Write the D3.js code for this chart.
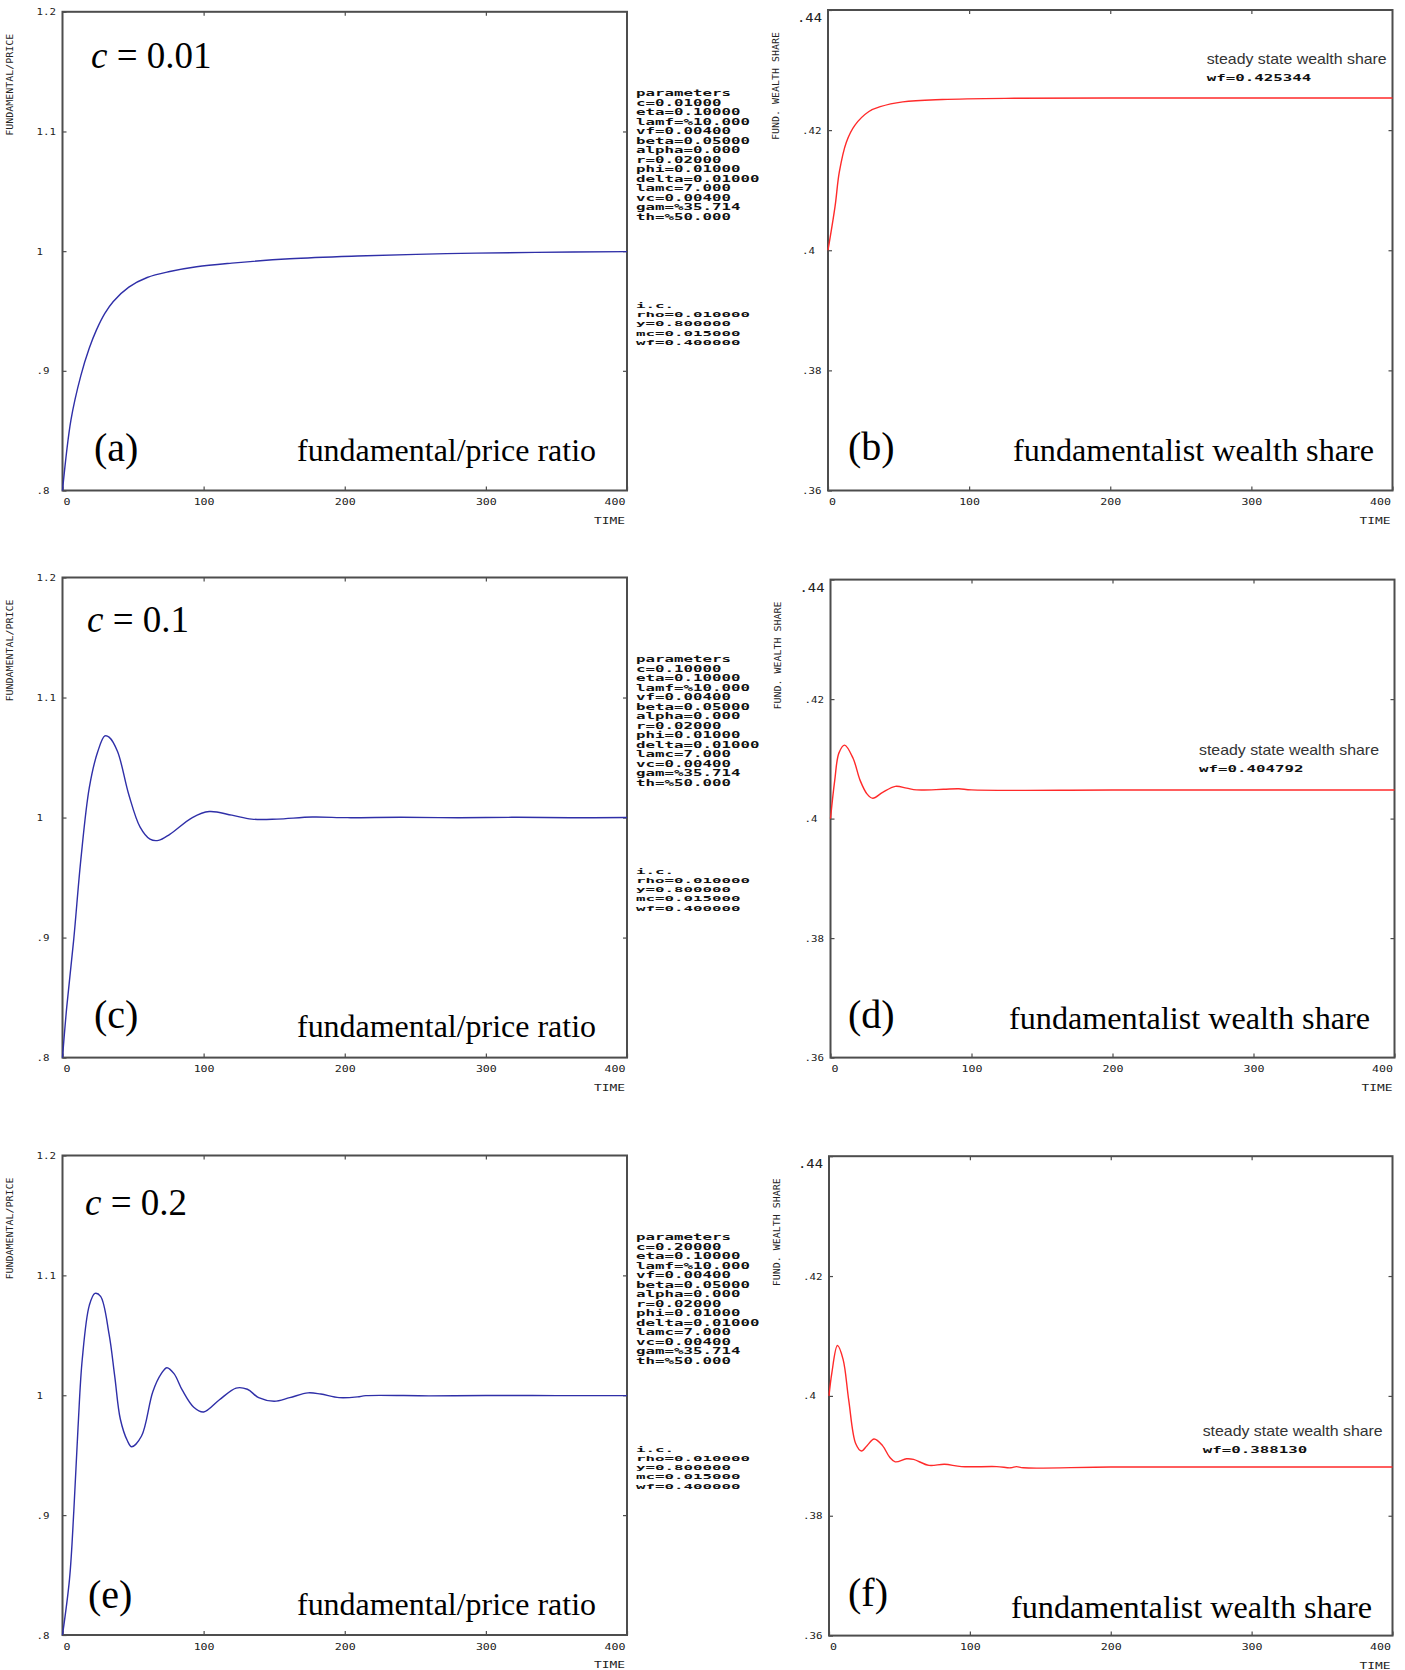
<!DOCTYPE html>
<html>
<head>
<meta charset="utf-8">
<script src="https://cdn.jsdelivr.net/npm/d3@7"></script>
<style>
  html, body { margin: 0; padding: 0; background: #fff; }
  svg { display: block; }
</style>
</head>
<body>
<div id="chart"></div>
<script>
// ---- data ----
const timeTicks = [0, 100, 200, 300, 400];
const ratioTicks = [0.8, 0.9, 1.0, 1.1, 1.2];
const ratioTickLabels = ['.8', '.9', '1', '1.1', '1.2'];
const shareTicks = [0.36, 0.38, 0.40, 0.42, 0.44];
const shareTickLabels = ['.36', '.38', '.4', '.42', '.44'];

const cValues = ['0.01', '0.1', '0.2'];
const cParams = ['0.01000', '0.10000', '0.20000'];
const steadyShares = ['0.425344', '0.404792', '0.388130'];
const panelLetters = [['(a)', '(b)'], ['(c)', '(d)'], ['(e)', '(f)']];

const otherParams = ['eta=0.10000', 'lamf=%10.000', 'vf=0.00400', 'beta=0.05000',
  'alpha=0.000', 'r=0.02000', 'phi=0.01000', 'delta=0.01000', 'lamc=7.000',
  'vc=0.00400', 'gam=%35.714', 'th=%50.000'];
const initialConds = ['rho=0.010000', 'y=0.800000', 'mc=0.015000', 'wf=0.400000'];

// c = 0.01
const timeA = [0, 6, 13, 19, 24, 30, 36, 47, 60, 76, 95, 120, 161, 209, 272, 335, 400];
const ratioA = [0.800, 0.859, 0.896, 0.919, 0.934, 0.948, 0.958, 0.970, 0.978, 0.983,
  0.987, 0.990, 0.9936, 0.9959, 0.9979, 0.9990, 0.9996];
const timeB = [0, 5, 8, 13, 19, 29, 37, 53, 81, 132, 200, 300, 400];
const shareB = [0.400, 0.4073, 0.4130, 0.4180, 0.4208, 0.4231, 0.4239, 0.4247, 0.4251,
  0.4253, 0.42534, 0.42534, 0.42534];

// c = 0.1
const timeC = [0, 3, 8, 13, 19, 25, 30, 33, 39, 47, 55, 62, 68, 76, 92, 104, 120, 134,
  152, 177, 202, 240, 280, 320, 360, 400];
const ratioC = [0.800, 0.842, 0.899, 0.965, 1.025, 1.055, 1.068, 1.067, 1.055, 1.019,
  0.992, 0.982, 0.981, 0.986, 1.000, 1.005, 1.002, 0.9987, 0.9987, 1.0004, 0.9999,
  1.0002, 0.9998, 1.0002, 0.9998, 1.0000];
const timeD = [0, 3, 6, 10, 16, 21, 26, 30, 37, 46, 54, 61, 80, 91, 100, 200, 300, 400];
const shareD = [0.400, 0.4064, 0.4110, 0.4123, 0.4101, 0.4064, 0.4041, 0.4034, 0.4044,
  0.4054, 0.4051, 0.4048, 0.4049, 0.4050, 0.4048, 0.40479, 0.40479, 0.40479];

// c = 0.2
const timeE = [0, 5, 8, 11, 14, 19, 23, 27, 33, 37, 41, 46, 49, 56, 64, 70, 74, 79, 85,
  93, 100, 111, 123, 131, 139, 150, 161, 174, 183, 196, 209, 215, 260, 300, 350, 400];
const ratioE = [0.800, 0.847, 0.903, 0.973, 1.030, 1.075, 1.085, 1.0825, 1.051, 1.016,
  0.980, 0.962, 0.957, 0.966, 1.003, 1.018, 1.023, 1.018, 1.004, 0.990, 0.986, 0.996,
  1.006, 1.005, 0.998, 0.995, 0.998, 1.002, 1.001, 0.998, 0.9986, 0.9997, 0.9995,
  0.9998, 0.9997, 0.9997];
const timeF = [0, 2, 6, 10, 14, 19, 23, 27, 32, 38, 43, 47, 55, 60, 71, 82, 94, 119,
  129, 133, 138, 200, 300, 400];
const shareF = [0.400, 0.4038, 0.4084, 0.4061, 0.3993, 0.3920, 0.3908, 0.3917, 0.3928,
  0.3917, 0.3898, 0.3890, 0.3895, 0.3894, 0.3884, 0.3886, 0.3882, 0.3882, 0.3880,
  0.3882, 0.3880, 0.38813, 0.38813, 0.38813];

const ratioSeries = [[timeA, ratioA], [timeC, ratioC], [timeE, ratioE]];
const shareSeries = [[timeB, shareB], [timeD, shareD], [timeF, shareF]];

// ---- layout ----
const W = 1405, H = 1670;
const leftBoxes = [
  { x0: 62.5, x1: 627, y0: 11.8, y1: 490.5 },
  { x0: 62.5, x1: 627, y0: 577.5, y1: 1057.6 },
  { x0: 62.5, x1: 627, y0: 1155.5, y1: 1635 }
];
const rightBoxes = [
  { x0: 828, x1: 1392.5, y0: 10, y1: 490.5 },
  { x0: 830.5, x1: 1394.5, y0: 579.6, y1: 1057.6 },
  { x0: 829, x1: 1392.5, y0: 1156.2, y1: 1635.6 }
];
// text placement per row
const cLabelPos = [{ x: 91, y: 67.6 }, { x: 87, y: 632.3 }, { x: 85, y: 1215 }];
const leftLetterPos = [{ x: 94, y: 461 }, { x: 94, y: 1028.3 }, { x: 88, y: 1608 }];
const leftTitleY = [461, 1037, 1614.7];
const rightLetterPos = [{ x: 848, y: 460 }, { x: 848, y: 1028.3 }, { x: 848, y: 1606 }];
const rightTitle = [{ x: 1013, y: 461 }, { x: 1009, y: 1029 }, { x: 1011, y: 1618 }];
const steadyPos = [{ x: 1206.7, y: 64 }, { x: 1199, y: 754.6 }, { x: 1202.7, y: 1435.6 }];

const MONO = '"DejaVu Sans Mono", "Liberation Mono", monospace';
const SERIF = '"Liberation Serif", "Times New Roman", serif';
const BLUE = '#2f2fa8';
const RED = '#ff2a2a';
const FRAME = '#4d4d4d';

const svg = d3.select('#chart').append('svg')
  .attr('width', W).attr('height', H)
  .attr('viewBox', `0 0 ${W} ${H}`);
svg.append('rect').attr('width', W).attr('height', H).attr('fill', '#fff');

// squat, wide bitmap-looking text (the old plotting program's font)
function pixelText(g, str, x, y, charW, size, sy) {
  return g.append('text')
    .attr('transform', `translate(${x},${y}) scale(1,${sy})`)
    .attr('font-family', MONO)
    .attr('font-size', size)
    .attr('font-weight', 'bold')
    .attr('fill', '#111')
    .attr('textLength', str.length * charW)
    .attr('lengthAdjust', 'spacingAndGlyphs')
    .text(str);
}

function drawPanel(box, domain, ticks, tickLabels, series, color, yTitle, bigTop) {
  const g = svg.append('g');
  const x = d3.scaleLinear().domain([0, 400]).range([box.x0, box.x1]);
  const y = d3.scaleLinear().domain(domain).range([box.y1, box.y0]);

  // inward ticks on all four sides
  const bottom = g.append('g').attr('transform', `translate(0,${box.y1})`)
    .call(d3.axisBottom(x).tickValues(timeTicks).tickSize(-4).tickPadding(8).tickFormat(d3.format('d')));
  const top = g.append('g').attr('transform', `translate(0,${box.y0})`)
    .call(d3.axisTop(x).tickValues(timeTicks.slice(1, -1)).tickSize(-4).tickFormat(''));
  const left = g.append('g').attr('transform', `translate(${box.x0},0)`)
    .call(d3.axisLeft(y).tickValues(ticks).tickSize(-4).tickFormat((d, i) => tickLabels[i]));
  const right = g.append('g').attr('transform', `translate(${box.x1},0)`)
    .call(d3.axisRight(y).tickValues(ticks.slice(1, -1)).tickSize(-4).tickFormat(''));

  [bottom, top, left, right].forEach(a => {
    a.select('.domain').remove();
    a.selectAll('line').attr('stroke', FRAME).attr('stroke-width', 1.2);
  });
  const n = timeTicks.length;
  bottom.selectAll('text')
    .attr('font-family', MONO).attr('font-size', 9.5).attr('fill', '#222')
    .attr('textLength', function () { return this.textContent.length * 7; })
    .attr('lengthAdjust', 'spacingAndGlyphs')
    .attr('text-anchor', (d, i) => i === 0 ? 'start' : i === n - 1 ? 'end' : 'middle')
    .attr('x', (d, i) => i === 0 ? 0.5 : i === n - 1 ? -2 : 0);
  left.selectAll('text')
    .attr('font-family', MONO).attr('font-size', 9.5).attr('fill', '#222')
    .attr('text-anchor', 'start').attr('x', -26)
    .attr('textLength', function () { return this.textContent.length * 6.5; })
    .attr('lengthAdjust', 'spacingAndGlyphs');
  if (bigTop) {
    // the top label on the wealth-share panels is larger and sits lower
    left.selectAll('.tick').filter((d, i) => i === ticks.length - 1).select('text')
      .attr('font-size', 12.5).attr('x', -31).attr('y', 7.5)
      .attr('textLength', 25);
  }

  // frame
  g.append('rect')
    .attr('x', box.x0).attr('y', box.y0)
    .attr('width', box.x1 - box.x0).attr('height', box.y1 - box.y0)
    .attr('fill', 'none').attr('stroke', FRAME).attr('stroke-width', 2);

  // series
  const [ts, vs] = series;
  const line = d3.line()
    .x((d, i) => x(ts[i]))
    .y(d => y(d))
    .curve(d3.curveCatmullRom.alpha(0.5));
  g.append('path')
    .datum(vs)
    .attr('d', line)
    .attr('fill', 'none')
    .attr('stroke', color)
    .attr('stroke-width', 1.4);

  // axis titles
  const ty = box.y0 + 22 + yTitle.length * 3;
  const tx = box.x0 - 49.5;
  g.append('text')
    .attr('transform', `translate(${tx},${ty}) rotate(-90)`)
    .attr('text-anchor', 'middle')
    .attr('font-family', MONO).attr('font-size', 9).attr('fill', '#222')
    .attr('textLength', yTitle.length * 6)
    .attr('lengthAdjust', 'spacingAndGlyphs')
    .text(yTitle);
  g.append('text')
    .attr('x', box.x1 - 2).attr('y', box.y1 + 33)
    .attr('text-anchor', 'end')
    .attr('font-family', MONO).attr('font-size', 9.5).attr('fill', '#222')
    .attr('textLength', 31).attr('lengthAdjust', 'spacingAndGlyphs')
    .text('TIME');
  return g;
}

for (let r = 0; r < 3; r++) {
  const lb = leftBoxes[r], rb = rightBoxes[r];
  const gl = drawPanel(lb, [0.8, 1.2], ratioTicks, ratioTickLabels, ratioSeries[r], BLUE, 'FUNDAMENTAL/PRICE', false);
  const gr = drawPanel(rb, [0.36, 0.44], shareTicks, shareTickLabels, shareSeries[r], RED, 'FUND. WEALTH SHARE', true);

  // c = ... label
  const ct = gl.append('text')
    .attr('x', cLabelPos[r].x).attr('y', cLabelPos[r].y)
    .attr('font-family', SERIF).attr('font-size', 37).attr('fill', '#000');
  ct.append('tspan').attr('font-style', 'italic').text('c');
  ct.append('tspan').text(' = ' + cValues[r]);

  gl.append('text')
    .attr('x', leftLetterPos[r].x).attr('y', leftLetterPos[r].y)
    .attr('font-family', SERIF).attr('font-size', 40).attr('fill', '#000')
    .text(panelLetters[r][0]);
  gl.append('text')
    .attr('x', 297).attr('y', leftTitleY[r])
    .attr('font-family', SERIF).attr('font-size', 32).attr('fill', '#000')
    .attr('textLength', 299).attr('lengthAdjust', 'spacingAndGlyphs')
    .text('fundamental/price ratio');

  gr.append('text')
    .attr('x', rightLetterPos[r].x).attr('y', rightLetterPos[r].y)
    .attr('font-family', SERIF).attr('font-size', 40).attr('fill', '#000')
    .text(panelLetters[r][1]);
  gr.append('text')
    .attr('x', rightTitle[r].x).attr('y', rightTitle[r].y)
    .attr('font-family', SERIF).attr('font-size', 32).attr('fill', '#000')
    .attr('textLength', 361).attr('lengthAdjust', 'spacingAndGlyphs')
    .text('fundamentalist wealth share');

  // steady state annotation
  gr.append('text')
    .attr('x', steadyPos[r].x).attr('y', steadyPos[r].y)
    .attr('font-family', '"Liberation Sans Narrow", "Liberation Sans", Arial, sans-serif')
    .attr('font-size', 15).attr('fill', '#333')
    .attr('textLength', 180).attr('lengthAdjust', 'spacingAndGlyphs')
    .text('steady state wealth share');
  pixelText(gr, 'wf=' + steadyShares[r], steadyPos[r].x, steadyPos[r].y + 17, 9.5, 11, 0.85);

  // parameter block
  const pg = svg.append('g');
  const lines = ['parameters', 'c=' + cParams[r]].concat(otherParams);
  lines.forEach((s, i) => pixelText(pg, s, 636, lb.y0 + 84.5 + i * 9.5, 9.5, 11, 0.72));
  ['i.c.'].concat(initialConds).forEach((s, i) =>
    pixelText(pg, s, 636, lb.y0 + 296 + i * 9.3, 9.5, 11, 0.7));
}
</script>
</body>
</html>
